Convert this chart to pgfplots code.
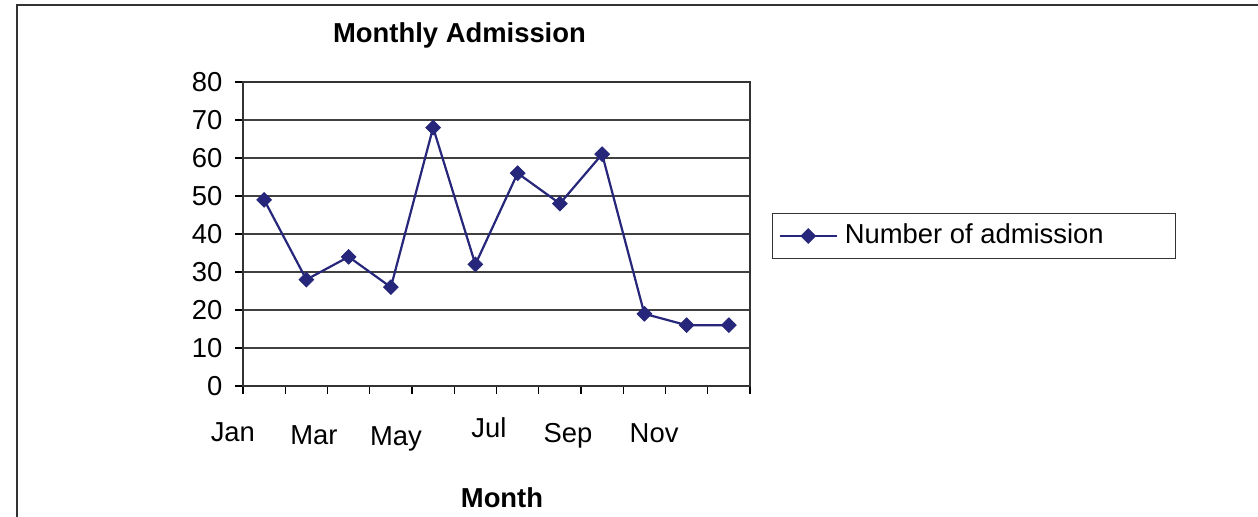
\documentclass[border=0pt]{standalone}
\usepackage{pgfplots}
\pgfplotsset{compat=1.18}
\usepackage{fontspec}
\setmainfont{Liberation Sans}
\definecolor{navy}{RGB}{38,38,122}
\begin{document}
\fontsize{13.7}{16}\selectfont
\begin{tikzpicture}
\useasboundingbox (0,0) rectangle (629pt,258.5pt);
\draw[black!80, line width=1pt] (8.5pt,0) -- (8.5pt,256pt) -- (629pt,256pt);
\node[anchor=base, font=\bfseries] at (229.75pt,237pt) {Monthly Admission};
\node[anchor=base, font=\bfseries] at (251pt,4.5pt) {Month};
\begin{axis}[
  at={(121.5pt,65.5pt)}, anchor=south west,
  scale only axis, width=253.5pt, height=152pt,
  xmin=0.5, xmax=12.5, ymin=0, ymax=80,
  xtick={0.5,1.5,...,12.5}, xticklabels={},
  ytick={0,10,...,80},
  ymajorgrids, grid style={black!75, line width=0.6pt},
  axis line style={black!80, line width=0.7pt},
  tick style={black, line width=0.6pt},
  tick align=outside, major tick length=4pt,
  xtick pos=bottom, ytick pos=left,
  /pgf/number format/assume math mode=true,
  yticklabel style={font=\fontsize{13.7}{16}\selectfont, xshift=-1.5pt},
  clip=false,
  legend style={at={(1.0434,0.4934)}, anchor=west, draw=black!80, line width=0.6pt,
    font=\fontsize{13.7}{16}\selectfont, inner xsep=3pt, inner ysep=3.2pt},
  legend cell align=left,
  legend image code/.code={
    \draw[mark repeat=2, mark phase=2, #1] plot coordinates {(0pt,0pt) (14.25pt,0pt) (28.5pt,0pt)};
  },
]
\addplot[color=navy, line width=1.1pt, mark=square*, mark size=2.6pt,
  mark options={rotate=45, fill=navy, draw=navy, line width=0.4pt}]
  coordinates {(1,49) (2,28) (3,34) (4,26) (5,68) (6,32) (7,56) (8,48) (9,61) (10,19) (11,16) (12,16)};
\addlegendentry{\makebox[162pt][l]{\hspace{1.5pt}Number of admission}}
\node[anchor=base] at (axis cs:0.26,0) [yshift=-28pt] {Jan};
\node[anchor=base] at (axis cs:2.18,0) [yshift=-29.5pt] {Mar};
\node[anchor=base] at (axis cs:4.12,0) [yshift=-30pt] {May};
\node[anchor=base] at (axis cs:6.32,0) [yshift=-26pt] {Jul};
\node[anchor=base] at (axis cs:8.19,0) [yshift=-28.5pt] {Sep};
\node[anchor=base] at (axis cs:10.23,0) [yshift=-28.5pt] {Nov};
\end{axis}
\end{tikzpicture}
\end{document}
